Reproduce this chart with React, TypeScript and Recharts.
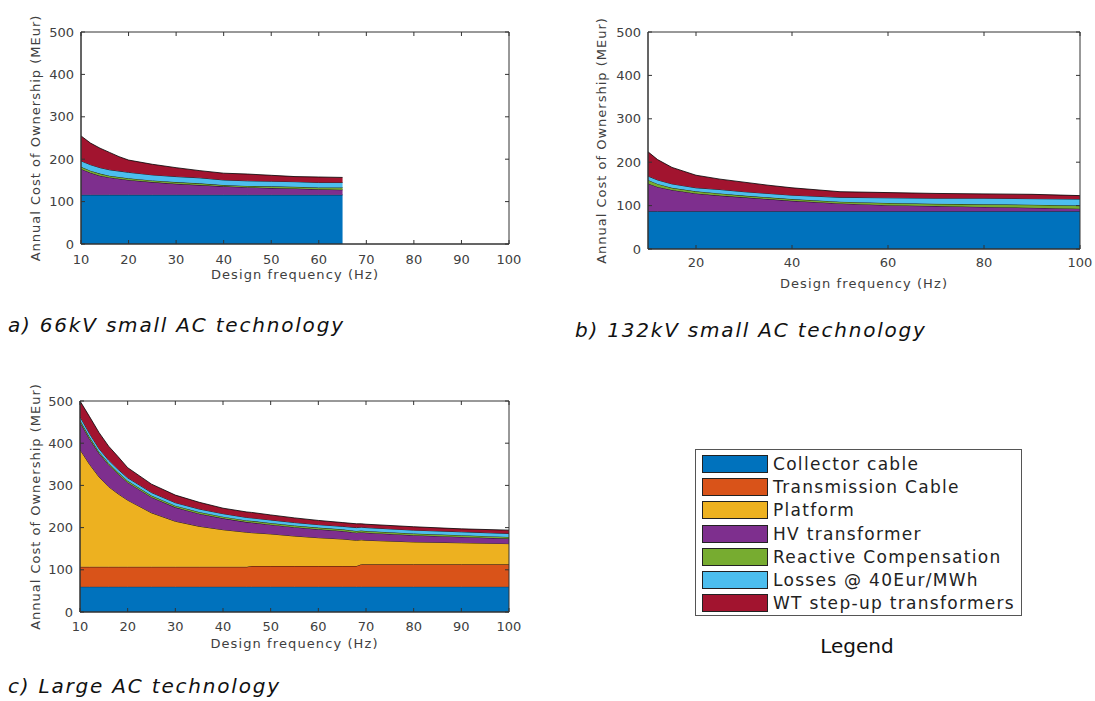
import React from "react";
import { AreaChart, Area, XAxis, YAxis, ReferenceArea } from "recharts";

// series order (bottom -> top)
const SERIES_KEYS = ["collector", "transmission", "platform", "hv", "reactive", "losses", "wt"];
const SERIES_NAMES = [
  "Collector cable",
  "Transmission Cable",
  "Platform",
  "HV transformer",
  "Reactive Compensation",
  "Losses @ 40Eur/MWh",
  "WT step-up transformers",
];
const SERIES_COLORS = ["#0072BD", "#D95319", "#EDB120", "#7E2F8E", "#77AC30", "#4DBEEE", "#A2142F"];

const Y_TICKS = [0, 100, 200, 300, 400, 500];
const X_TICKS_10 = [10, 20, 30, 40, 50, 60, 70, 80, 90, 100];
const X_TICKS_20 = [20, 40, 60, 80, 100];

// a) 66kV small AC technology
const FREQ_A = [10, 12, 14, 16, 18, 20, 25, 30, 35, 40, 45, 50, 55, 60, 65];
const COLLECTOR_A = [116, 116, 116, 116, 116, 116, 116, 116, 116, 116, 116, 116, 116, 116, 116];
const HV_A = [61, 52, 45, 41, 38, 35, 30, 26, 23, 20, 18, 16, 15, 13, 12];
const REACTIVE_A = [5, 5, 5, 4, 4, 4, 4, 4, 4, 3, 3, 4, 4, 4, 5];
const LOSSES_A = [14, 14, 14, 14, 14, 14, 13, 13, 13, 12, 12, 12, 12, 12, 12];
const WT_A = [59, 51, 46, 41, 34, 29, 25, 21, 17, 16, 16, 14, 12, 13, 12];

// b) 132kV small AC technology
const FREQ_B = [10, 12, 15, 20, 25, 30, 35, 40, 50, 60, 70, 80, 90, 100];
const COLLECTOR_B = [87, 87, 87, 87, 87, 87, 87, 87, 87, 87, 87, 87, 87, 87];
const HV_B = [64, 56, 49, 41, 36, 32, 28, 24, 18, 14, 12, 10, 8, 6];
const REACTIVE_B = [8, 7, 5, 5, 5, 4, 4, 4, 4, 5, 5, 6, 7, 7];
const LOSSES_B = [9, 9, 9, 8, 9, 9, 9, 9, 10, 12, 13, 14, 14, 15];
const WT_B = [56, 47, 38, 29, 24, 22, 19, 17, 13, 12, 11, 10, 10, 8];

// c) Large AC technology
const FREQ_C = [10, 12, 14, 16, 18, 20, 25, 30, 35, 40, 45, 46, 50, 55, 60, 65, 68, 69, 70, 80, 90, 100];
const COLLECTOR_C = [60, 60, 60, 60, 60, 60, 60, 60, 60, 60, 60, 60, 60, 60, 60, 60, 60, 60, 60, 60, 60, 60];
const TRANSMISSION_C = [47, 47, 47, 47, 47, 47, 47, 47, 47, 47, 47, 49, 49, 49, 49, 49, 49, 53, 53, 53, 53, 53];
const PLATFORM_C = [278, 243, 213, 190, 173, 158, 128, 108, 96, 88, 82, 79, 76, 71, 67, 64, 61, 58, 57, 53, 51, 49];
const HV_C = [65, 60, 56, 52, 47, 42, 37, 33, 30, 27, 24, 24, 22, 21, 20, 19, 18, 18, 18, 16, 14, 12];
const REACTIVE_C = [5, 5, 4, 4, 4, 4, 4, 4, 4, 4, 4, 4, 4, 4, 4, 4, 4, 4, 4, 4, 4, 4];
const LOSSES_C = [8, 8, 7, 7, 7, 7, 7, 7, 7, 7, 7, 7, 7, 7, 7, 7, 8, 8, 8, 8, 8, 8];
const WT_C = [37, 40, 38, 33, 30, 24, 20, 18, 16, 13, 13, 13, 12, 11, 10, 9, 9, 8, 8, 8, 7, 8];

const buildRows = (freq: number[], cols: Record<string, number[]>) =>
  freq.map((f, i) => {
    const row: Record<string, number> = { f };
    Object.keys(cols).forEach((k) => (row[k] = cols[k][i]));
    return row;
  });

const ROWS_A = buildRows(FREQ_A, {
  collector: COLLECTOR_A,
  hv: HV_A,
  reactive: REACTIVE_A,
  losses: LOSSES_A,
  wt: WT_A,
});
const ROWS_B = buildRows(FREQ_B, {
  collector: COLLECTOR_B,
  hv: HV_B,
  reactive: REACTIVE_B,
  losses: LOSSES_B,
  wt: WT_B,
});
const ROWS_C = buildRows(FREQ_C, {
  collector: COLLECTOR_C,
  transmission: TRANSMISSION_C,
  platform: PLATFORM_C,
  hv: HV_C,
  reactive: REACTIVE_C,
  losses: LOSSES_C,
  wt: WT_C,
});

const AXIS = "#333333";
const TICK_TEXT = "#404040";
const FONT = "DejaVu Sans, Verdana, sans-serif";

interface PanelProps {
  rows: Record<string, number>[];
  width: number;
  height: number;
  top: number;
  right: number;
  yWidth: number;
  xHeight: number;
  xTicks: number[];
  xTickMargin: number;
  titleOffset: number;
  yLabelDx: number;
}

function Panel(p: PanelProps) {
  const keys = SERIES_KEYS.filter((k) => k in p.rows[0]);
  return (
    <AreaChart
      width={p.width}
      height={p.height}
      data={p.rows}
      margin={{ top: p.top - 1, right: p.right - 1, left: 0, bottom: 0 }}
    >
      <XAxis
        dataKey="f"
        type="number"
        domain={[10, 100]}
        ticks={p.xTicks}
        interval={0}
        allowDataOverflow
        height={p.xHeight}
        stroke={AXIS}
        tickSize={-4}
        tickMargin={p.xTickMargin}
        tick={{ fontSize: 13, fill: TICK_TEXT, fontFamily: FONT }}
        label={{
          value: "Design frequency (Hz)",
          position: "insideBottom",
          offset: p.titleOffset,
          fill: TICK_TEXT,
          fontSize: 13,
          fontFamily: FONT,
          letterSpacing: 1.1,
        }}
      />
      {/* top and right axes only carry the inward tick marks */}
      <XAxis
        xAxisId="top"
        dataKey="f"
        orientation="top"
        type="number"
        domain={[10, 100]}
        ticks={p.xTicks}
        interval={0}
        allowDataOverflow
        height={1}
        axisLine={false}
        stroke={AXIS}
        tickSize={-4}
        tickFormatter={() => ""}
      />
      <YAxis
        type="number"
        domain={[0, 500]}
        ticks={Y_TICKS}
        interval={0}
        allowDataOverflow
        width={p.yWidth}
        stroke={AXIS}
        tickSize={-4}
        tickMargin={11}
        tick={{ fontSize: 13, fill: TICK_TEXT, fontFamily: FONT }}
        label={{
          value: "Annual Cost of Ownership (MEur)",
          angle: -90,
          position: "center",
          dx: p.yLabelDx,
          fill: TICK_TEXT,
          fontSize: 13,
          fontFamily: FONT,
          letterSpacing: 1.0,
        }}
      />
      <YAxis
        yAxisId="right"
        orientation="right"
        type="number"
        domain={[0, 500]}
        ticks={Y_TICKS}
        interval={0}
        allowDataOverflow
        width={1}
        axisLine={false}
        stroke={AXIS}
        tickSize={-4}
        tickFormatter={() => ""}
      />
      {keys.map((k) => {
        const i = SERIES_KEYS.indexOf(k);
        return (
          <Area
            key={k}
            dataKey={k}
            name={SERIES_NAMES[i]}
            stackId="1"
            type="linear"
            fill={SERIES_COLORS[i]}
            fillOpacity={1}
            stroke="#000"
            strokeWidth={0.8}
            isAnimationActive={false}
            dot={false}
            activeDot={false}
          />
        );
      })}
      {/* axes box, as MATLAB draws it */}
      <ReferenceArea
        x1={10}
        x2={100}
        y1={0}
        y2={500}
        fill="none"
        fillOpacity={0}
        stroke={AXIS}
        strokeWidth={1}
        ifOverflow="visible"
      />
    </AreaChart>
  );
}

const captionStyle: React.CSSProperties = {
  position: "absolute",
  fontFamily: FONT,
  fontStyle: "italic",
  fontSize: 20,
  lineHeight: "20px",
  letterSpacing: 1.8,
  color: "#111",
  whiteSpace: "nowrap",
};

export default function App() {
  return (
    <div
      style={{
        position: "absolute",
        left: 0,
        top: 0,
        width: 1095,
        height: 701,
        background: "#fff",
        fontFamily: FONT,
        overflow: "hidden",
      }}
    >
      <div style={{ position: "absolute", left: 0, top: 0 }}>
        <Panel
          rows={ROWS_A}
          width={525}
          height={290}
          top={32}
          right={16}
          yWidth={81}
          xHeight={46}
          xTicks={X_TICKS_10}
          xTickMargin={15}
          titleOffset={11}
          yLabelDx={-5}
        />
      </div>
      <div style={{ position: "absolute", left: 560, top: 0 }}>
        <Panel
          rows={ROWS_B}
          width={535}
          height={300}
          top={32}
          right={15}
          yWidth={88}
          xHeight={51}
          xTicks={X_TICKS_20}
          xTickMargin={13}
          titleOffset={12}
          yLabelDx={-3}
        />
      </div>
      <div style={{ position: "absolute", left: 0, top: 370 }}>
        <Panel
          rows={ROWS_C}
          width={525}
          height={290}
          top={31}
          right={16}
          yWidth={80}
          xHeight={48}
          xTicks={X_TICKS_10}
          xTickMargin={14}
          titleOffset={12}
          yLabelDx={-5}
        />
      </div>

      <div style={{ ...captionStyle, left: 8, top: 315 }}>a) 66kV small AC technology</div>
      <div style={{ ...captionStyle, left: 575, top: 320 }}>b) 132kV small AC technology</div>
      <div style={{ ...captionStyle, left: 8, top: 676 }}>c) Large AC technology</div>

      {/* legend box */}
      <div
        style={{
          position: "absolute",
          left: 695,
          top: 449,
          width: 327,
          height: 167,
          boxSizing: "border-box",
          border: "1px solid #555",
          paddingTop: 2,
        }}
      >
        {SERIES_NAMES.map((name, i) => (
          <div key={name} style={{ display: "flex", alignItems: "center", height: 23.3 }}>
            <div
              style={{
                width: 66,
                height: 18,
                marginLeft: 6,
                boxSizing: "border-box",
                border: "1px solid #222",
                background: SERIES_COLORS[i],
              }}
            />
            <span
              style={{
                marginLeft: 5,
                fontSize: 17,
                letterSpacing: 1.3,
                color: "#222",
                whiteSpace: "nowrap",
              }}
            >
              {name}
            </span>
          </div>
        ))}
      </div>
      <div
        style={{
          position: "absolute",
          left: 757,
          top: 636,
          width: 200,
          textAlign: "center",
          fontSize: 20,
          lineHeight: "20px",
          color: "#111",
        }}
      >
        Legend
      </div>
    </div>
  );
}
